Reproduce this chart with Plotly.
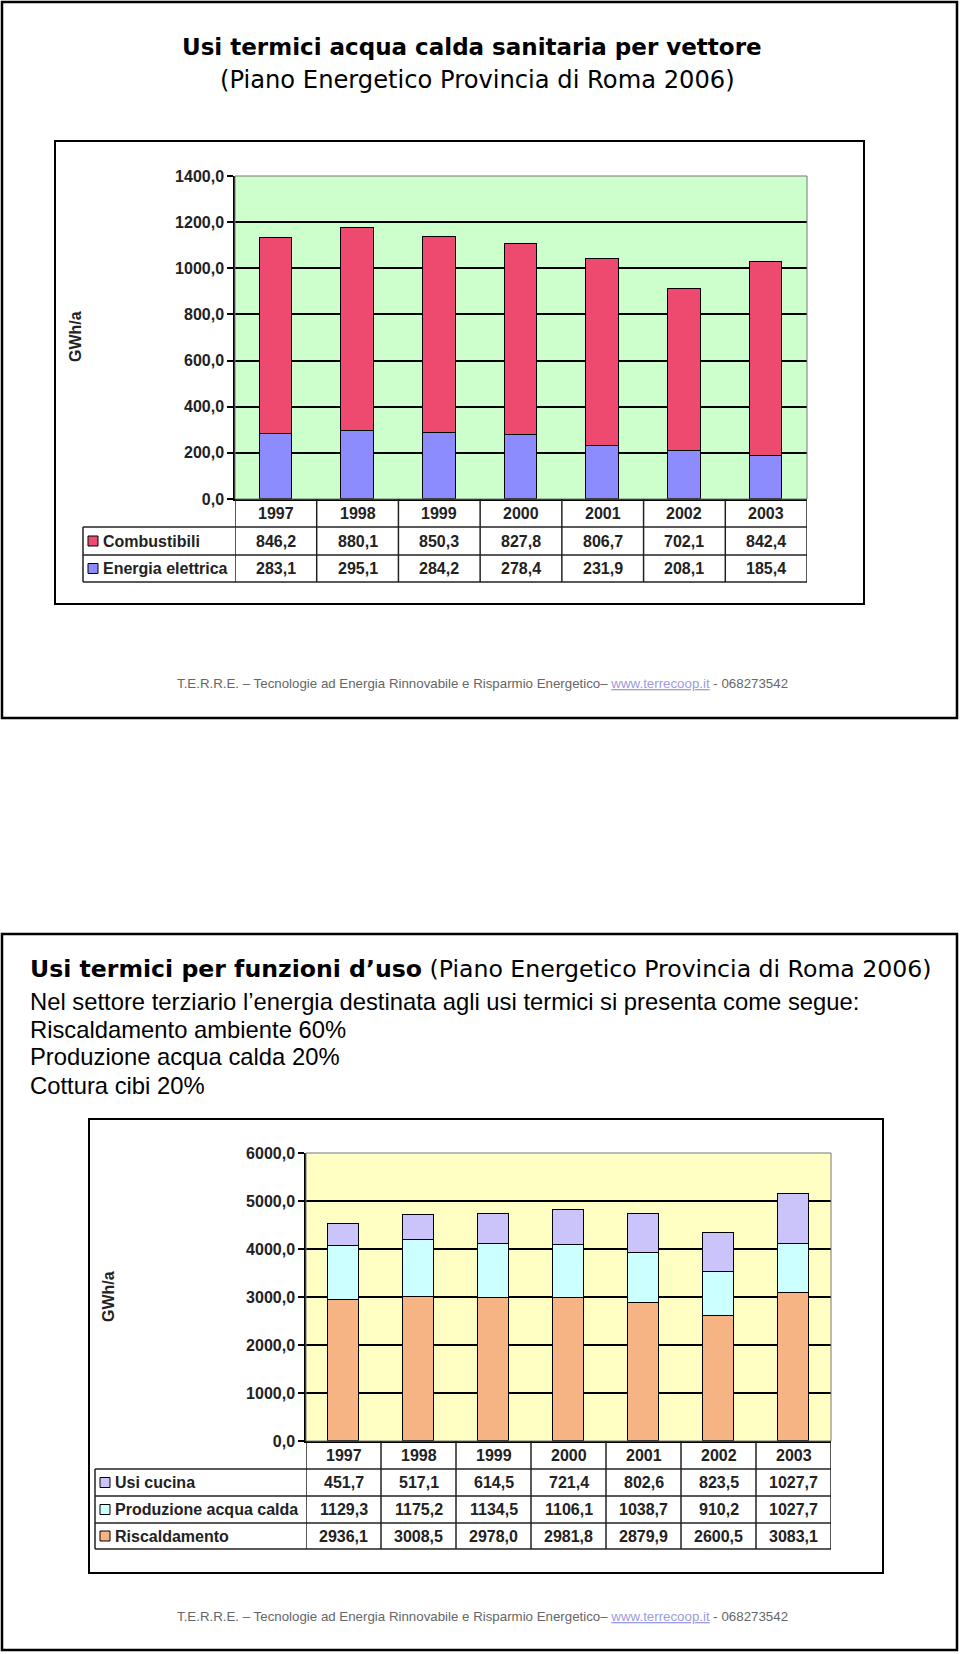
import plotly.graph_objects as go

# ---------------- data ----------------
years = ["1997", "1998", "1999", "2000", "2001", "2002", "2003"]

combustibili = [846.2, 880.1, 850.3, 827.8, 806.7, 702.1, 842.4]
energia_elettrica = [283.1, 295.1, 284.2, 278.4, 231.9, 208.1, 185.4]

usi_cucina = [451.7, 517.1, 614.5, 721.4, 802.6, 823.5, 1027.7]
produzione_acqua_calda = [1129.3, 1175.2, 1134.5, 1106.1, 1038.7, 910.2, 1027.7]
riscaldamento = [2936.1, 3008.5, 2978.0, 2981.8, 2879.9, 2600.5, 3083.1]

y1_ticks = [0, 200, 400, 600, 800, 1000, 1200, 1400]
y2_ticks = [0, 1000, 2000, 3000, 4000, 5000, 6000]

title1_line1 = "Usi termici acqua calda sanitaria per vettore"
title1_line2 = "(Piano Energetico Provincia di Roma 2006)"
title2_bold = "Usi termici per funzioni d\u2019uso"
title2_rest = " (Piano Energetico Provincia di Roma 2006)"
body_lines = [
    "Nel settore terziario l\u2019energia destinata agli usi termici si presenta come segue:",
    "Riscaldamento ambiente 60%",
    "Produzione acqua calda 20%",
    "Cottura cibi 20%",
]
footer_a = "T.E.R.R.E. \u2013 Tecnologie ad Energia Rinnovabile e Risparmio Energetico\u2013 "
footer_link = "www.terrecoop.it"
footer_b = " - 068273542"

# ---------------- styling ----------------
W, H = 960, 1654
C_COMB = "#EE4A70"
C_EE = "#8C8CFF"
C_CUC = "#CAC4FA"
C_ACQ = "#CCFFFF"
C_RISC = "#F6B384"
BG1 = "#CCFFCC"
BG2 = "#FFFFC4"
ARIAL = "Arial, Liberation Sans, sans-serif"
COMIC = "Comic Sans MS, DejaVu Sans, sans-serif"


def px(x):
    return x / W


def py(y):
    return 1 - y / H


fig = go.Figure()

bar_line = dict(color="black", width=1.5)
fig.add_trace(go.Bar(x=years, y=energia_elettrica, width=0.4, xaxis="x", yaxis="y",
                     marker=dict(color=C_EE, line=bar_line), name="Energia elettrica"))
fig.add_trace(go.Bar(x=years, y=combustibili, width=0.4, xaxis="x", yaxis="y",
                     marker=dict(color=C_COMB, line=bar_line), name="Combustibili"))
fig.add_trace(go.Bar(x=years, y=riscaldamento, width=0.42, xaxis="x2", yaxis="y2",
                     marker=dict(color=C_RISC, line=bar_line), name="Riscaldamento"))
fig.add_trace(go.Bar(x=years, y=produzione_acqua_calda, width=0.42, xaxis="x2", yaxis="y2",
                     marker=dict(color=C_ACQ, line=bar_line), name="Produzione acqua calda"))
fig.add_trace(go.Bar(x=years, y=usi_cucina, width=0.42, xaxis="x2", yaxis="y2",
                     marker=dict(color=C_CUC, line=bar_line), name="Usi cucina"))

# geometry (pixels)
P1 = dict(l=235, r=807, t=176, b=499)
P2 = dict(l=306, r=831, t=1153, b=1441)


def xaxis_cfg(p, anchor):
    return dict(domain=[px(p["l"]), px(p["r"])], anchor=anchor, type="category",
                range=[-0.5, 6.5], showticklabels=False, ticks="", showgrid=False,
                showline=True, linecolor="black", linewidth=1.5, zeroline=False,
                fixedrange=True, automargin=False)


def yaxis_cfg(p, anchor, ticks, rng):
    return dict(domain=[py(p["b"]), py(p["t"])], anchor=anchor, range=rng,
                tickvals=ticks, tickformat=".1f", ticks="outside", ticklen=6,
                tickwidth=1.5, tickcolor="black", showline=True, linecolor="black",
                linewidth=1.5, showgrid=True, gridcolor="black", gridwidth=1.5,
                zeroline=False, fixedrange=True, automargin=False,
                tickfont=dict(family=ARIAL, size=16, color="#222222", weight="bold"))


shapes = []
annotations = []

# slide frames
for (x0, y0, x1, y1) in [(2, 2, 957, 718), (2, 934, 957, 1650)]:
    shapes.append(dict(type="rect", xref="paper", yref="paper", x0=px(x0), x1=px(x1),
                       y0=py(y1), y1=py(y0), line=dict(color="black", width=2.5)))
# chart frames
for (x0, y0, x1, y1) in [(55, 141, 864, 604), (89, 1119, 883, 1573)]:
    shapes.append(dict(type="rect", xref="paper", yref="paper", x0=px(x0), x1=px(x1),
                       y0=py(y1), y1=py(y0), line=dict(color="black", width=2)))

# plot backgrounds and borders
for xa, ya, bg in [("x", "y", BG1), ("x2", "y2", BG2)]:
    shapes.append(dict(type="rect", xref=xa + " domain", yref=ya + " domain", x0=0, x1=1,
                       y0=0, y1=1, fillcolor=bg, line=dict(width=0), layer="below"))
    shapes.append(dict(type="rect", xref=xa + " domain", yref=ya + " domain", x0=0, x1=1,
                       y0=0, y1=1, line=dict(color="#777777", width=1), layer="above"))

BOLD16 = dict(family=ARIAL, size=16, color="#222222", weight="bold")


def make_table(xa, p, legend_left, row_edges, rows, swatch_x):
    tbl_bottom = row_edges[-1]
    lc = dict(color="#222222", width=1.5)
    for i in range(len(years) + 1):
        shapes.append(dict(type="line", xref=xa, yref="paper", x0=i - 0.5, x1=i - 0.5,
                           y0=py(p["b"]), y1=py(tbl_bottom), line=lc))
    shapes.append(dict(type="line", xref="paper", yref="paper", x0=px(legend_left),
                       x1=px(legend_left), y0=py(row_edges[0]), y1=py(tbl_bottom), line=lc))
    for ye in row_edges:
        shapes.append(dict(type="line", xref="paper", yref="paper", x0=px(legend_left),
                           x1=px(p["r"]), y0=py(ye), y1=py(ye), line=lc))
    ymid = (p["b"] + row_edges[0]) / 2
    for i, yr in enumerate(years):
        annotations.append(dict(xref=xa, yref="paper", x=i, y=py(ymid), text=yr,
                                showarrow=False, xanchor="center", yanchor="middle",
                                font=BOLD16))
    tops = row_edges[:-1]
    bots = row_edges[1:]
    for (label, vals, col), t, b in zip(rows, tops, bots):
        ym = (t + b) / 2
        shapes.append(dict(type="rect", xref="paper", yref="paper", x0=px(swatch_x),
                           x1=px(swatch_x + 10), y0=py(ym + 5), y1=py(ym - 5),
                           fillcolor=col, line=dict(color="black", width=1)))
        annotations.append(dict(xref="paper", yref="paper", x=px(swatch_x + 13), y=py(ym),
                                text=label, showarrow=False, xanchor="left",
                                yanchor="middle", font=BOLD16))
        for i, v in enumerate(vals):
            annotations.append(dict(xref=xa, yref="paper", x=i, y=py(ym),
                                    text=f"{v:.1f}".replace(".", ","), showarrow=False,
                                    xanchor="center", yanchor="middle", font=BOLD16))


make_table("x", P1, 83, [527, 555, 582],
           [("Combustibili", combustibili, C_COMB),
            ("Energia elettrica", energia_elettrica, C_EE)], 88)
make_table("x2", P2, 95, [1469, 1496, 1523, 1549],
           [("Usi cucina", usi_cucina, C_CUC),
            ("Produzione acqua calda", produzione_acqua_calda, C_ACQ),
            ("Riscaldamento", riscaldamento, C_RISC)], 100)

# y-axis titles
for (x, y) in [(75, 337), (108, 1297)]:
    annotations.append(dict(xref="paper", yref="paper", x=px(x), y=py(y), text="GWh/a",
                            textangle=-90, showarrow=False, xanchor="center",
                            yanchor="middle", font=BOLD16))

# slide 1 titles
annotations.append(dict(xref="paper", yref="paper", x=px(472), y=py(47),
                        text=f"<b>{title1_line1}</b>",
                        showarrow=False, xanchor="center", yanchor="middle",
                        font=dict(family=COMIC, size=23, color="black")))
annotations.append(dict(xref="paper", yref="paper", x=px(477), y=py(80), text=title1_line2,
                        showarrow=False, xanchor="center", yanchor="middle",
                        font=dict(family=COMIC, size=24.2, color="black")))

# slide 2 title and body
annotations.append(dict(xref="paper", yref="paper", x=px(28), y=py(969),
                        text=f"<b>{title2_bold}</b>{title2_rest}",
                        showarrow=False, xanchor="left", yanchor="middle",
                        font=dict(family=COMIC, size=23.6, color="black")))
for line, yc in zip(body_lines, [1001, 1029, 1056, 1085]):
    annotations.append(dict(xref="paper", yref="paper", x=px(28), y=py(yc), text=line,
                            showarrow=False, xanchor="left", yanchor="middle",
                            font=dict(family=ARIAL, size=23.8, color="black")))

# footers
footer_text = (footer_a + f"<span style='color:#9C9CE0;text-decoration:underline'>{footer_link}</span>"
               + footer_b)
for yc in [683, 1616]:
    annotations.append(dict(xref="paper", yref="paper", x=px(482), y=py(yc), text=footer_text,
                            showarrow=False, xanchor="center", yanchor="middle",
                            font=dict(family=ARIAL, size=13.3, color="#666666")))

fig.update_layout(
    template="none",
    width=W, height=H, autosize=False, margin=dict(l=0, r=0, t=0, b=0, pad=0),
    paper_bgcolor="white", plot_bgcolor="rgba(0,0,0,0)",
    barmode="stack", bargap=0, showlegend=False, separators=",.",
    xaxis=xaxis_cfg(P1, "y"), yaxis=yaxis_cfg(P1, "x", y1_ticks, [0, 1400]),
    xaxis2=xaxis_cfg(P2, "y2"), yaxis2=yaxis_cfg(P2, "x2", y2_ticks, [0, 6000]),
    shapes=shapes, annotations=annotations,
)

fig.write_html("out.html", config={"responsive": False})
